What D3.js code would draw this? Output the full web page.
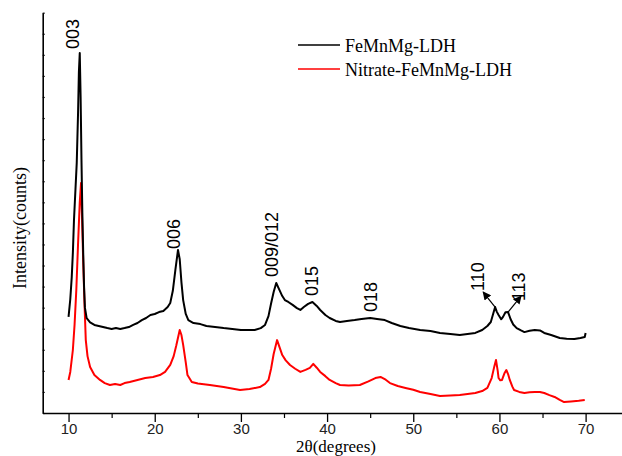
<!DOCTYPE html>
<html>
<head>
<meta charset="utf-8">
<script src="https://cdn.jsdelivr.net/npm/d3@7"></script>
<style>
  html, body { margin: 0; padding: 0; background: #fff; }
  svg { display: block; }
</style>
</head>
<body>
<svg id="chart" width="622" height="456"></svg>
<script>
// ---- data (2θ in degrees, intensity in counts) ----
const blackTheta = [10.0,10.2,10.37,10.5,10.63,10.8,10.95,11.1,11.2,11.3,11.4,11.5,11.6,11.7,11.8,11.9,12.1,12.5,13.0,13.5,14.0,14.5,15.0,15.5,16.0,16.5,17.0,17.5,18.0,18.5,19.0,19.5,20.0,20.5,21.0,21.5,21.8,22.1,22.4,22.7,22.9,23.1,23.3,23.6,23.9,24.5,25.3,26.0,27.0,28.0,29.0,30.0,31.0,31.6,32.3,32.8,33.2,33.5,33.8,34.1,34.4,34.8,35.1,35.5,36.0,36.5,36.9,37.3,37.8,38.3,38.8,39.2,39.8,40.3,41.0,41.5,42.3,43.2,44.0,45.0,45.8,46.7,47.5,48.5,49.5,50.8,52.0,53.1,54.3,55.4,56.3,57.2,58.0,58.6,59.0,59.3,59.5,59.7,59.9,60.2,60.4,60.7,61.0,61.3,61.6,62.0,62.5,62.9,63.5,64.1,64.7,65.2,66.0,67.0,67.8,68.7,69.4,69.9,70.0];
const blackCounts = [456,540,645,760,916,1060,1187,1420,1620,1709,1500,1200,950,760,600,500,450,430,418,413,408,403,399,403,399,403,408,418,427,441,451,465,470,479,484,503,522,580,680,774,730,620,536,470,441,427,422,413,408,403,399,394,394,394,403,418,460,520,574,617,590,555,536,527,513,498,489,503,518,527,508,489,465,451,437,432,437,441,446,451,446,441,427,413,403,394,389,380,375,370,375,380,394,413,432,475,503,480,465,445,455,478,479,445,420,403,392,384,390,394,392,380,370,356,352,351,356,361,380];

const redTheta = [10.0,10.2,10.5,10.7,10.9,11.1,11.3,11.45,11.55,11.7,11.85,12.0,12.2,12.5,13.0,13.65,14.2,14.8,15.4,16.0,16.5,17.1,18.0,18.9,19.8,20.6,21.2,21.8,22.2,22.5,22.9,23.1,23.3,23.6,23.8,24.3,25.0,26.4,28.0,29.9,31.0,32.2,32.8,33.2,33.5,33.8,34.2,34.5,34.8,35.2,35.7,36.3,36.9,37.5,38.0,38.4,38.8,39.2,39.8,40.3,41.0,41.5,42.5,43.8,44.8,45.6,46.2,46.8,47.3,48.2,49.1,50.0,50.8,52.0,53.1,54.3,55.4,56.3,57.2,58.0,58.6,59.1,59.4,59.6,59.8,59.9,60.1,60.3,60.6,60.8,61.0,61.2,61.5,61.7,62.3,62.9,63.5,64.1,64.7,65.2,65.8,66.4,67.0,67.5,68.3,69.2,69.9];
const redCounts = [157,195,299,420,584,800,1000,1092,950,720,520,346,270,218,180,157,142,133,138,133,142,147,157,166,171,180,195,228,270,320,394,370,323,240,180,147,140,133,123,109,114,123,138,157,210,280,346,310,275,250,228,210,195,205,214,233,215,195,175,157,142,133,130,133,150,166,171,158,142,128,119,110,100,90,81,83,85,90,95,104,119,166,220,252,200,166,155,157,190,204,185,157,125,109,100,95,98,100,100,95,85,76,62,52,55,58,62];

const seriesNames = ["FeMnMg-LDH", "Nitrate-FeMnMg-LDH"];
const xTickValues = [10, 20, 30, 40, 50, 60, 70];
const xMinorTicks = [15, 25, 35, 45, 55, 65];
const peakLabels = ["003", "006", "009/012", "015", "018", "110", "113"];
const peakTheta = [11.3, 22.7, 34.1, 38.3, 45.0, 59.5, 61.0];
const peakCounts = [1709, 774, 617, 527, 451, 503, 479];

// ---- layout ----
const svg = d3.select("#chart");
const x = d3.scaleLinear().domain([7, 75]).range([42.7, 628.7]);
const y = d3.scaleLinear().domain([0, 1900]).range([413, 12.7]);

// curves
const line = d3.line().x(d => x(d[0])).y(d => y(d[1]));
const redData = redTheta.map((t, i) => [t, redCounts[i]]);
const blackData = blackTheta.map((t, i) => [t, blackCounts[i]]);

svg.append("path").datum(redData).attr("d", line)
  .attr("fill", "none").attr("stroke", "#ff0000").attr("stroke-width", 2).attr("stroke-linejoin", "round");
svg.append("path").datum(blackData).attr("d", line)
  .attr("fill", "none").attr("stroke", "#000").attr("stroke-width", 2).attr("stroke-linejoin", "round");

// x axis
const xAxis = d3.axisBottom(x).tickValues(xTickValues).tickSize(9).tickSizeOuter(0).tickPadding(1);
const gx = svg.append("g").attr("transform", "translate(0,413)").call(xAxis);
gx.select(".domain").attr("stroke-width", 1.6);
gx.selectAll(".tick line").attr("stroke-width", 1.3);
gx.selectAll(".tick text").attr("font-family", "Liberation Sans, Arial, sans-serif").attr("font-size", 15).attr("fill", "#222");
svg.append("g").attr("transform", "translate(0,413)")
  .call(d3.axisBottom(x).tickValues(xMinorTicks).tickSize(5).tickFormat(""))
  .call(g => g.select(".domain").remove())
  .selectAll(".tick line").attr("stroke-width", 1.2);

// y axis (no labels)
const gy = svg.append("g").attr("transform", "translate(42.7,0)")
  .call(d3.axisRight(y).tickValues(d3.range(0, 1901, 100)).tickSize(2).tickSizeOuter(0).tickFormat(""));
gy.select(".domain").attr("stroke-width", 1.6);
gy.selectAll(".tick line").attr("stroke-width", 1.2);

// axis titles
svg.append("text").attr("x", 336).attr("y", 452.2).attr("text-anchor", "middle")
  .attr("font-family", "Liberation Serif, Times New Roman, serif").attr("font-size", 17)
  .text("2θ(degrees)");
svg.append("text").attr("transform", "translate(26,228) rotate(-90)").attr("text-anchor", "middle")
  .attr("font-family", "Liberation Serif, Times New Roman, serif").attr("font-size", 18)
  .text("Intensity(counts)");

// legend
const legendY = [45, 69];
const legendColors = ["#000", "#ff0000"];
seriesNames.forEach((name, i) => {
  svg.append("line").attr("x1", 298).attr("x2", 340).attr("y1", legendY[i]).attr("y2", legendY[i])
    .attr("stroke", legendColors[i]).attr("stroke-width", 1.3);
  svg.append("text").attr("x", 345).attr("y", legendY[i] + 7)
    .attr("font-family", "Liberation Serif, Times New Roman, serif").attr("font-size", 18)
    .text(name);
});

// peak labels (rotated), positions relative to peak marks
const labelDx = [-7, -3.5, -4.5, 0, 1, -17, 11];
const labelDy = [-4, -1, -6, -6, -6, -16, -11];
peakLabels.forEach((lab, i) => {
  const px = x(peakTheta[i]) + labelDx[i] + 6;
  const py = y(peakCounts[i]) + labelDy[i];
  svg.append("text").attr("transform", `translate(${px},${py}) rotate(-90)`)
    .attr("font-family", "Liberation Sans, Arial, sans-serif").attr("font-size", 18)
    .text(lab);
});

// arrows for 110 and 113
const defs = svg.append("defs");
defs.append("marker").attr("id", "ah").attr("viewBox", "0 0 10 10").attr("refX", 9).attr("refY", 5)
  .attr("markerWidth", 7).attr("markerHeight", 7).attr("orient", "auto")
  .append("path").attr("d", "M0,0 L10,5 L0,10 Z").attr("fill", "#000");
const arrowDx = [-12, 13];
const arrowDy = [-15, -16];
[5, 6].forEach((k, j) => {
  const x0 = x(peakTheta[k]), y0 = y(peakCounts[k]);
  svg.append("line").attr("x1", x0).attr("y1", y0).attr("x2", x0 + arrowDx[j]).attr("y2", y0 + arrowDy[j])
    .attr("stroke", "#000").attr("stroke-width", 1.2).attr("marker-end", "url(#ah)");
});
</script>
</body>
</html>
